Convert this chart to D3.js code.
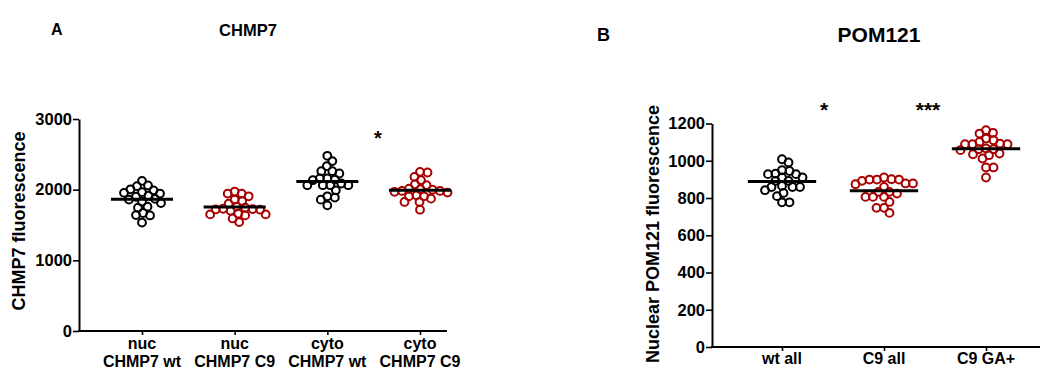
<!DOCTYPE html>
<html>
<head>
<meta charset="utf-8">
<script src="https://cdn.jsdelivr.net/npm/d3@7/dist/d3.min.js"></script>
<style>
  html, body { margin: 0; padding: 0; background: #fff; }
  svg { display: block; }
  text { font-family: "Liberation Sans", Arial, sans-serif; font-weight: bold; fill: #000; }
</style>
</head>
<body>
<svg id="chart" width="1045" height="374"></svg>
<script>
// ---- Panel A: CHMP7 fluorescence ----
const chmpCategories = [["nuc", "CHMP7 wt"], ["nuc", "CHMP7 C9"], ["cyto", "CHMP7 wt"], ["cyto", "CHMP7 C9"]];
const chmpNucWt = [2124, 2050, 2060, 1945, 1990, 1965, 1955, 2005, 1915, 1860, 1900, 1870, 1830, 1810, 1760, 1745, 1670, 1635, 1640, 1535];
const chmpNucC9 = [1944, 1973, 1944, 1839, 1859, 1906, 1802, 1717, 1660, 1593, 1650, 1650, 1541, 1636, 1726, 1745, 1730, 1700, 1760, 1720];
const chmpCytoWt = [2479, 2404, 2333, 2229, 2262, 2262, 2158, 2158, 2143, 2134, 2087, 2063, 2063, 2063, 2063, 1991, 1859, 1888, 1906, 1778];
const chmpCytoC9 = [2252, 2243, 2181, 2134, 2077, 2063, 1982, 1959, 2006, 1920, 1982, 2015, 1873, 1826, 1826, 1906, 1906, 1717, 1970, 2000];
const chmpTicks = [0, 1000, 2000, 3000];

// ---- Panel B: nuclear POM121 fluorescence ----
const pomCategories = ["wt all", "C9 all", "C9 GA+"];
const pomWtAll = [1008, 991, 945, 949, 928, 910, 910, 931, 928, 892, 892, 865, 859, 859, 842, 859, 827, 810, 777, 777];
const pomC9All = [901, 874, 892, 899, 910, 824, 833, 779, 806, 720, 899, 878, 899, 878, 859, 833, 806, 806, 747, 747];
const pomC9GA = [1164, 1146, 1150, 1110, 1101, 1119, 1089, 1089, 1092, 1089, 1062, 1062, 1057, 1066, 1039, 1035, 1030, 1012, 964, 964, 910];
const pomTicks = [0, 200, 400, 600, 800, 1000, 1200];

const BLACK = "#000000";
const RED = "#a80000";

const svg = d3.select("#chart");

// Spread overlapping points sideways (beeswarm-style) so each stays visible.
function dodge(values, y, minDist) {
  const pts = values.map(v => ({ v, y: y(v), dx: 0 }))
    .sort((a, b) => d3.descending(a.v, b.v));
  const placed = [];
  for (const p of pts) {
    for (let k = 0; k < 200; k++) {
      const cands = k === 0 ? [0] : [k * 0.5, -k * 0.5];
      const ok = cands.find(dx => placed.every(q => (dx - q.dx) ** 2 + (p.y - q.y) ** 2 >= minDist * minDist));
      if (ok !== undefined) { p.dx = ok; break; }
    }
    placed.push(p);
  }
  return pts;
}

function panel(opts) {
  const g = svg.append("g");
  const { x, y, groups, ticks, axisLeft, axisRight, axisBottom } = opts;

  // y axis
  const ya = g.append("g").attr("transform", `translate(${axisLeft},0)`)
    .call(d3.axisLeft(y).tickValues(ticks).tickFormat(d3.format("d")).tickSize(6).tickSizeOuter(0).tickPadding(1));
  ya.select(".domain").attr("stroke-width", 2);
  ya.selectAll(".tick line").attr("stroke-width", 1.6);
  ya.selectAll(".tick text").style("font-size", "16.5px").attr("fill", "#000");

  // x axis
  const xa = g.append("g").attr("transform", `translate(0,${axisBottom})`)
    .call(d3.axisBottom(x).tickSize(4).tickFormat(""));
  xa.select(".domain").remove();
  xa.selectAll(".tick line").attr("stroke-width", 1.6);
  g.append("line")
    .attr("x1", axisLeft - 1).attr("x2", axisRight)
    .attr("y1", axisBottom).attr("y2", axisBottom)
    .attr("stroke", "#000").attr("stroke-width", 2);

  // category labels (one or two lines)
  groups.forEach(grp => {
    const lines = Array.isArray(grp.label) ? grp.label : [grp.label];
    const t = g.append("text")
      .attr("text-anchor", "middle")
      .style("font-size", "16px");
    lines.forEach((ln, i) => {
      t.append("tspan")
        .attr("x", x(grp.key))
        .attr("y", axisBottom + opts.labelOffset + i * 18)
        .text(ln);
    });
  });

  const step = x.step();
  groups.forEach(grp => {
    const cx = x(grp.key);
    const pts = dodge(grp.values, y, 7.2);
    g.append("g").selectAll("circle")
      .data(pts)
      .join("circle")
      .attr("cx", d => cx + d.dx)
      .attr("cy", d => d.y)
      .attr("r", 3.9)
      .attr("fill", "none")
      .attr("stroke", grp.color)
      .attr("stroke-width", 2);
    const m = d3.mean(grp.values);
    g.append("line")
      .attr("x1", cx - step * 0.335).attr("x2", cx + step * 0.335)
      .attr("y1", y(m)).attr("y2", y(m))
      .attr("stroke", "#000").attr("stroke-width", 3);
  });

  return g;
}

// Panel A
const xA = d3.scalePoint().domain(chmpCategories.map((c, i) => i)).range([142, 420]);
const yA = d3.scaleLinear().domain([0, 3000]).range([331, 119]);
panel({
  x: xA, y: yA, ticks: chmpTicks,
  axisLeft: 79, axisRight: 447, axisBottom: 331, labelOffset: 18,
  groups: [
    { key: 0, label: chmpCategories[0], values: chmpNucWt, color: BLACK },
    { key: 1, label: chmpCategories[1], values: chmpNucC9, color: RED },
    { key: 2, label: chmpCategories[2], values: chmpCytoWt, color: BLACK },
    { key: 3, label: chmpCategories[3], values: chmpCytoC9, color: RED }
  ]
});

// Panel B
const xB = d3.scalePoint().domain(pomCategories).range([782, 986]);
const yB = d3.scaleLinear().domain([0, 1200]).range([347, 123.5]);
panel({
  x: xB, y: yB, ticks: pomTicks,
  axisLeft: 712, axisRight: 1040, axisBottom: 347, labelOffset: 17,
  groups: [
    { key: pomCategories[0], label: pomCategories[0], values: pomWtAll, color: BLACK },
    { key: pomCategories[1], label: pomCategories[1], values: pomC9All, color: RED },
    { key: pomCategories[2], label: pomCategories[2], values: pomC9GA, color: RED }
  ]
});

// Axis titles
svg.append("text")
  .attr("transform", "translate(25,221) rotate(-90)")
  .attr("text-anchor", "middle")
  .style("font-size", "18px")
  .text("CHMP7 fluorescence");
svg.append("text")
  .attr("transform", "translate(659,234) rotate(-90)")
  .attr("text-anchor", "middle")
  .style("font-size", "18px")
  .text("Nuclear POM121 fluorescence");

// Panel letters and titles
svg.append("text").attr("x", 51).attr("y", 35).style("font-size", "16px").text("A");
svg.append("text").attr("x", 248).attr("y", 36).attr("text-anchor", "middle").style("font-size", "16.5px").text("CHMP7");
svg.append("text").attr("x", 597).attr("y", 41).style("font-size", "18px").text("B");
svg.append("text").attr("x", 879).attr("y", 42).attr("text-anchor", "middle").style("font-size", "21px").text("POM121");

// Significance marks
svg.append("text").attr("x", 378).attr("y", 145).attr("text-anchor", "middle").style("font-size", "20px").text("*");
svg.append("text").attr("x", 824).attr("y", 117).attr("text-anchor", "middle").style("font-size", "21px").text("*");
svg.append("text").attr("x", 928).attr("y", 117).attr("text-anchor", "middle").style("font-size", "21px").text("***");
</script>
</body>
</html>
